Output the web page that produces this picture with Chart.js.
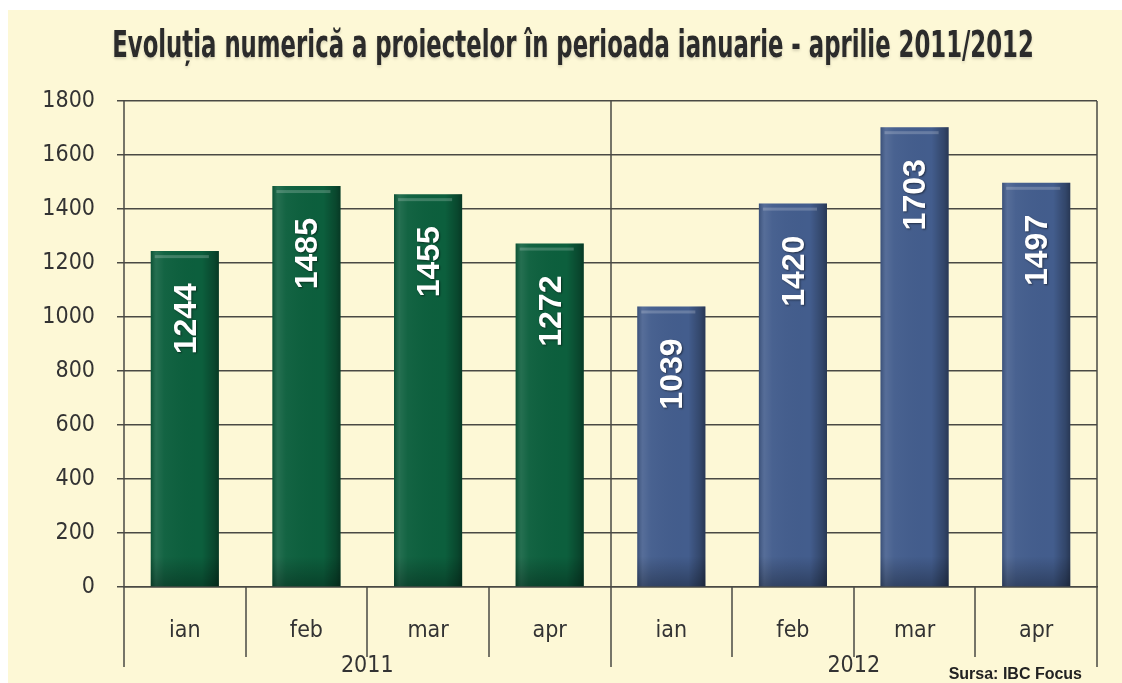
<!DOCTYPE html>
<html>
<head>
<meta charset="utf-8">
<script src="https://cdn.jsdelivr.net/npm/chart.js@4"></script>
<style>
  html, body { margin: 0; padding: 0; background: #fff; overflow: hidden; }
  #wrap { width: 1122px; height: 683px; }
</style>
</head>
<body>
<div id="wrap"><canvas id="projChart" width="1122" height="683"></canvas></div>
<script>
// --- datele graficului ---
const luni = ['ian', 'feb', 'mar', 'apr'];
const ani = ['2011', '2012'];
const valori2011 = [1244, 1485, 1455, 1272];
const valori2012 = [1039, 1420, 1703, 1497];
const tickuriY = [0, 200, 400, 600, 800, 1000, 1200, 1400, 1600, 1800];

const titlu = 'Evoluția numerică a proiectelor în perioada ianuarie - aprilie 2011/2012';
const sursa = 'Sursa: IBC Focus';

const verde = '#0c5f3d';
const albastru = '#435d8d';
const fundal = '#fdf8d6';
const linie = '#4a4a44';
const narrow = '"Liberation Sans Narrow", "DejaVu Sans Condensed", sans-serif';

// etichete si valori pe 8 coloane (4 luni x 2 ani)
const etichete = ani.flatMap(() => luni);
const valori = valori2011.concat(valori2012);
const culori = valori.map((v, i) => i < luni.length ? verde : albastru);

// fundal galben + chenar alb + titlu ingustat (font condensat)
const fundalPlugin = {
    id: 'fundal',
    beforeDraw(chart) {
        const c = chart.ctx;
        c.save();
        c.fillStyle = '#fff';
        c.fillRect(0, 0, chart.width, chart.height);
        c.fillStyle = fundal;
        c.fillRect(8, 10, chart.width - 8, chart.height - 10);

        c.translate(573, 47);
        c.scale(0.685, 1);
        c.font = 'bold 37px ' + narrow;
        c.textAlign = 'center';
        c.textBaseline = 'middle';
        c.shadowColor = 'rgba(0,0,0,0.15)';
        c.shadowBlur = 3;
        c.shadowOffsetY = 2;
        c.fillStyle = '#2b2b2b';
        c.fillText(titlu, 0, 0);
        c.restore();
    }
};

// efect 3D pe bare + valori rotite
const bare3d = {
    id: 'bare3d',
    afterDatasetsDraw(chart) {
        const c = chart.ctx;
        const meta = chart.getDatasetMeta(0);
        meta.data.forEach((bar, i) => {
            const p = bar.getProps(['x', 'y', 'base', 'width'], true);
            const left = p.x - p.width / 2;
            const h = p.base - p.y;
            c.save();
            const g = c.createLinearGradient(left, 0, left + p.width, 0);
            g.addColorStop(0, 'rgba(0,0,0,0.15)');
            g.addColorStop(0.08, 'rgba(255,255,255,0.1)');
            g.addColorStop(0.2, 'rgba(255,255,255,0.03)');
            g.addColorStop(0.75, 'rgba(0,0,0,0.0)');
            g.addColorStop(0.93, 'rgba(0,0,0,0.25)');
            g.addColorStop(1, 'rgba(0,0,0,0.4)');
            c.fillStyle = g;
            c.fillRect(left, p.y, p.width, h);
            const gv = c.createLinearGradient(0, p.base - 30, 0, p.base);
            gv.addColorStop(0, 'rgba(0,0,0,0)');
            gv.addColorStop(1, 'rgba(0,0,0,0.3)');
            c.fillStyle = gv;
            c.fillRect(left, p.base - 30, p.width, 30);
            c.fillStyle = 'rgba(255,255,255,0.2)';
            c.fillRect(left + 4, p.y + 4, p.width - 14, 3);

            // valoarea
            c.translate(p.x, p.y + 32);
            c.rotate(-Math.PI / 2);
            c.font = 'bold 32px "Liberation Sans", Arial, sans-serif';
            c.textAlign = 'right';
            c.textBaseline = 'middle';
            c.shadowColor = 'rgba(0,0,0,0.5)';
            c.shadowBlur = 2;
            c.shadowOffsetX = 1;
            c.shadowOffsetY = 1;
            c.fillStyle = '#fff';
            c.fillText(String(valori[i]), 0, 2);
            c.restore();
        });
    }
};

// axa X pe doua niveluri: separatoare, ani, sursa
const axaX = {
    id: 'axaX',
    afterDraw(chart) {
        const c = chart.ctx;
        const a = chart.chartArea;
        const x = chart.scales.x;
        const pas = x.getPixelForValue(1) - x.getPixelForValue(0);
        c.save();
        c.strokeStyle = linie;
        c.lineWidth = 1.5;
        c.beginPath();
        for (let i = 0; i <= etichete.length; i++) {
            const px = Math.round(x.getPixelForValue(0) - pas / 2 + i * pas);
            const capGrup = i % luni.length === 0;
            c.moveTo(px, capGrup ? a.top : a.bottom);
            c.lineTo(px, a.bottom + (capGrup ? 80 : 70));
        }
        c.stroke();

        c.fillStyle = '#333';
        c.font = '23px ' + narrow;
        c.textAlign = 'center';
        c.textBaseline = 'middle';
        ani.forEach((an, k) => {
            const start = x.getPixelForValue(k * luni.length) - pas / 2;
            c.fillText(an, start + pas * luni.length / 2, a.bottom + 79);
        });

        c.fillStyle = '#222';
        c.font = 'bold 16px "Liberation Sans", Arial, sans-serif';
        c.textAlign = 'right';
        c.fillText(sursa, 1082, 675);
        c.restore();
    }
};

const ctx = document.getElementById('projChart').getContext('2d');
const projChart = new Chart(ctx, {
    type: 'bar',
    data: {
        labels: etichete,
        datasets: [{
            label: 'Proiecte',
            data: valori,
            backgroundColor: culori,
            borderWidth: 0,
            categoryPercentage: 1,
            barPercentage: 0.56
        }]
    },
    options: {
        responsive: false,
        animation: false,
        layout: { padding: { top: 101, left: 0, right: 25, bottom: 0 } },
        scales: {
            x: {
                grid: { display: false, drawTicks: false },
                border: { display: true, color: linie, width: 1.5 },
                ticks: { color: '#333', font: { family: narrow, size: 23 }, padding: 30 },
                afterFit(scale) { scale.height = 96; }
            },
            y: {
                min: 0,
                max: 1800,
                afterBuildTicks(scale) { scale.ticks = tickuriY.map(v => ({ value: v })); },
                grid: { color: linie, lineWidth: 1.5, tickLength: 7 },
                border: { display: false },
                ticks: {
                    color: '#333',
                    font: { family: narrow, size: 23 },
                    padding: 22,
                    callback: v => String(v)
                },
                afterFit(scale) { scale.width = 124; }
            }
        },
        plugins: {
            legend: { display: false },
            tooltip: { enabled: false },
            title: { display: false }
        }
    },
    plugins: [fundalPlugin, bare3d, axaX]
});
</script>
</body>
</html>
